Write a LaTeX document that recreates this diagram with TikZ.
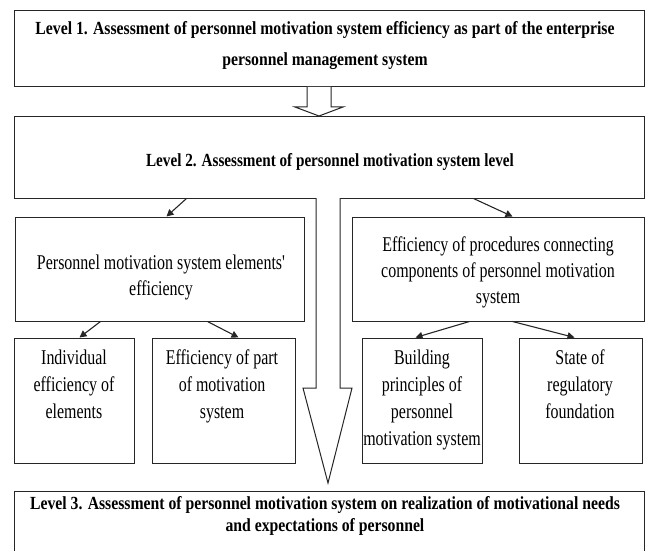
\documentclass[tikz,border=0pt]{standalone}
\usepackage{fontspec}
\setmainfont{Liberation Serif}
\newfontfamily\condb[FakeStretch=0.85]{Liberation Serif}
\newfontfamily\condbb[FakeStretch=0.82]{Liberation Serif}
\newfontfamily\condr[FakeStretch=0.76]{Liberation Serif}
\usetikzlibrary{arrows.meta}
\begin{document}
\begin{tikzpicture}[x=1pt,y=-1pt,
  line width=1pt,
  boxline/.style={draw=black!85},
  frame/.style={boxline, rectangle, inner sep=0pt},
  lvl/.style={align=center, inner sep=0pt, font=\condb\bfseries\fontsize{18.5}{31}\selectfont},
  lvltwo/.style={align=center, inner sep=0pt, font=\condbb\bfseries\fontsize{18.5}{22}\selectfont},
  lvlthree/.style={align=center, inner sep=0pt, font=\condb\bfseries\fontsize{18.5}{22}\selectfont},
  mid/.style={align=center, inner sep=0pt, font=\condr\fontsize{21}{26}\selectfont},
  low/.style={align=center, inner sep=0pt, font=\condr\fontsize{21}{27}\selectfont},
  conn/.style={draw=black!85, line width=1.1pt, -{Triangle[length=7pt,width=7pt]}},
  hollow/.style={draw=black!85, fill=white, line width=1pt, line join=miter}
]
\useasboundingbox (0,0) rectangle (646,551);
\clip (0,0) rectangle (646,551);
% boxes
\node[frame, minimum width=630pt, minimum height=76pt] (b1) at (329,49) {};
\node[frame, minimum width=630pt, minimum height=81pt] (b2) at (329,157.5) {};
\node[frame, minimum width=289pt, minimum height=104pt] (bl) at (159.5,269) {};
\node[frame, minimum width=292pt, minimum height=104pt] (br) at (498,269) {};
\node[frame, minimum width=120pt, minimum height=125pt] (c1) at (74,400.5) {};
\node[frame, minimum width=143pt, minimum height=125pt] (c2) at (223.5,400.5) {};
\node[frame, minimum width=120pt, minimum height=125pt] (c3) at (422,400.5) {};
\node[frame, minimum width=123pt, minimum height=125pt] (c4) at (580.5,400.5) {};
\node[frame, minimum width=630pt, minimum height=66pt] (b3) at (329,524) {};
% hollow arrows
\draw[hollow] (307,87) -- (307,107) -- (295,107) -- (319,116) -- (343,107) -- (331,107) -- (331,87);
\draw[hollow] (316,198) -- (316,388) -- (303,388) -- (328,483) -- (352,388) -- (340,388) -- (340,198);
% texts
\node[lvl] (t1) at (325,46) {Level 1. Assessment of personnel motivation system efficiency as part of the enterprise\\personnel management system};
\node[lvltwo] (t2) at (330,162) {Level 2. Assessment of personnel motivation system level};
\node[mid] (tl) at (161,277) {Personnel motivation system elements'\\efficiency};
\node[mid] (tr) at (498,272) {Efficiency of procedures connecting\\components of personnel motivation\\system};
\node[low, anchor=north] (tc1) at (74,349) {Individual\\efficiency of\\elements};
\node[low, anchor=north] (tc2) at (222,349) {Efficiency of part\\of motivation\\system};
\node[low, anchor=north] (tc3) at (422,349) {Building\\principles of\\personnel\\motivation system};
\node[low, anchor=north] (tc4) at (580,349) {State of\\regulatory\\foundation};
\node[lvlthree] (t3) at (325,516) {Level 3. Assessment of personnel motivation system on realization of motivational needs\\and expectations of personnel};
% connectors
\draw[conn] ([xshift=173pt]b2.south west) -- ([xshift=152pt]bl.north west);
\draw[conn] ([xshift=460pt]b2.south west) -- ([xshift=161pt]br.north west);
\draw[conn] ([xshift=86pt]bl.south west) -- ([xshift=66pt]c1.north west);
\draw[conn] ([xshift=193pt]bl.south west) -- ([xshift=87pt]c2.north west);
\draw[conn] ([xshift=118pt]br.south west) -- ([xshift=54pt]c3.north west);
\draw[conn] ([xshift=161pt]br.south west) -- ([xshift=56pt]c4.north west);
\end{tikzpicture}
\end{document}
